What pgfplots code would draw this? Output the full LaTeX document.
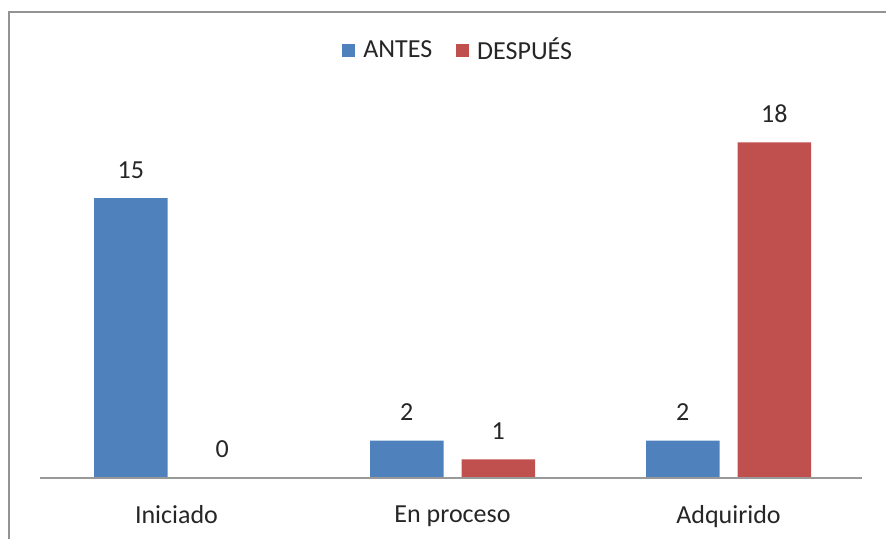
\documentclass[border=0pt]{standalone}
\usepackage{pgfplots}
\pgfplotsset{compat=1.18}
\usepackage{fontspec}
\setmainfont{Carlito}
\definecolor{cblue}{HTML}{4F81BD}
\definecolor{cred}{HTML}{C0504D}
\definecolor{txt}{HTML}{262626}
\begin{document}
\begin{tikzpicture}[x=0.5pt,y=0.5pt]
\useasboundingbox (0,0) rectangle (886,-539);
\begin{scope}
\clip (0,0) rectangle (886,-539);
\draw[gray!85, line width=1.1pt] (9,-560) |- (900,-12);
\end{scope}
\begin{axis}[
  at={(20pt,-239pt)}, anchor=south west,
  width=411pt, height=186.5pt, scale only axis,
  xmin=-0.4946, xmax=2.4837, ymin=0, ymax=20,
  axis on top,
  axis x line=bottom, axis y line=none,
  x axis line style={-, draw=gray!80, line width=0.8pt},
  xtick=data, xticklabels={Iniciado, En proceso, Adquirido},
  xtick style={draw=none},
  xticklabel style={font=\fontsize{13}{15}\selectfont, text=txt, yshift=-6pt},
  ybar=9pt, bar width=36.75pt,
  nodes near coords,
  every node near coord/.append style={font=\fontsize{13}{15}\selectfont, text=txt, yshift=6.5pt, /pgf/number format/assume math mode=true},
  legend columns=2,
  legend style={at={(0.51,1.147)}, anchor=center, draw=none, fill=none,
    font=\fontsize{13}{15}\selectfont, text=txt,
    /tikz/every odd column/.append style={column sep=2pt},
    /tikz/every even column/.append style={column sep=10pt}},
  legend image code/.code={\fill[#1] (0pt,-3.2pt) rectangle (6.5pt,3.2pt);},
]
\addplot[draw=none, fill=cblue] coordinates {(0,15) (1,2) (2,2)};
\addplot[draw=none, fill=cred] coordinates {(0,0) (1,1) (2,18)};
\legend{ANTES, DESPUÉS}
\end{axis}
\end{tikzpicture}
\end{document}
